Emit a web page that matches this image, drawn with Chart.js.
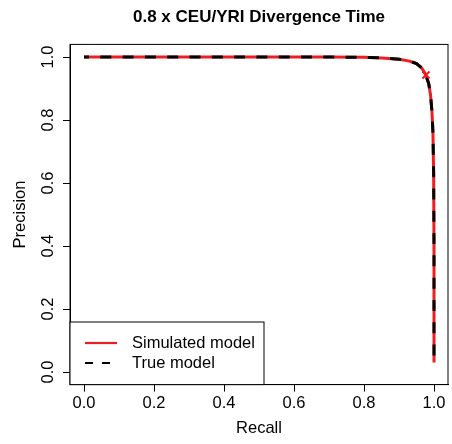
<!DOCTYPE html>
<html>
<head>
<meta charset="utf-8">
<script src="https://cdn.jsdelivr.net/npm/chart.js@4"></script>
<style>
  html, body { margin: 0; padding: 0; background: #fff; }
  canvas { display: block; }
</style>
</head>
<body>
<canvas id="pr" width="452" height="444"></canvas>
<script>
const recall    = [0, 0.2, 0.4, 0.6, 0.7, 0.8, 0.85, 0.9, 0.93, 0.95, 0.965, 0.977, 0.985, 0.99, 0.994, 0.997, 0.999, 1.0, 1.0];
const precision = [1, 1, 1, 1, 1, 0.999, 0.997, 0.993, 0.987, 0.979, 0.965, 0.943, 0.915, 0.88, 0.83, 0.76, 0.63, 0.4, 0.03];
const markRecall = [0.977];
const markPrecision = [0.943];
const tickVals = [0, 0.2, 0.4, 0.6, 0.8, 1.0];
const titleText = '0.8 x CEU/YRI Divergence Time';
const legendLabels = ['Simulated model', 'True model'];

const RED = '#ee1d23';
const FONT = "'Liberation Sans', Arial, sans-serif";

const points = recall.map((r, i) => ({ x: r, y: precision[i] }));
const marks = markRecall.map((r, i) => ({ x: r, y: markPrecision[i] }));

// box, title and legend drawn R-style on top of the chart
const rPlot = {
  id: 'rPlot',
  afterDraw(chart) {
    const { ctx, chartArea: a } = chart;
    ctx.save();
    ctx.strokeStyle = '#000';
    ctx.lineWidth = 1;
    ctx.strokeRect(a.left, a.top, a.right - a.left, a.bottom - a.top);

    ctx.fillStyle = '#000';
    ctx.font = 'bold 17px ' + FONT;
    ctx.textAlign = 'center';
    ctx.textBaseline = 'middle';
    ctx.fillText(titleText, (a.left + a.right) / 2, 17.5);

    const lx = a.left, ly = 322, lw = 194;
    ctx.fillStyle = '#fff';
    ctx.fillRect(lx, ly, lw, a.bottom - ly);
    ctx.strokeStyle = '#000';
    ctx.strokeRect(lx, ly, lw, a.bottom - ly);
    ctx.lineWidth = 2.2;
    ctx.strokeStyle = RED;
    ctx.beginPath(); ctx.moveTo(lx + 15, 343); ctx.lineTo(lx + 47, 343); ctx.stroke();
    ctx.strokeStyle = '#000';
    ctx.setLineDash([8, 9]);
    ctx.beginPath(); ctx.moveTo(lx + 15, 363); ctx.lineTo(lx + 47, 363); ctx.stroke();
    ctx.setLineDash([]);
    ctx.fillStyle = '#000';
    ctx.font = '16.5px ' + FONT;
    ctx.textAlign = 'left';
    ctx.fillText(legendLabels[0], lx + 62, 343);
    ctx.fillText(legendLabels[1], lx + 62, 363);
    ctx.restore();
  }
};

new Chart(document.getElementById('pr'), {
  type: 'line',
  data: {
    datasets: [
      {
        data: marks,
        showLine: false,
        pointStyle: 'crossRot',
        pointRadius: 5,
        pointBorderWidth: 2,
        pointBorderColor: RED,
        borderColor: RED
      },
      {
        data: points,
        borderColor: '#000',
        borderWidth: 3,
        borderDash: [11, 11.3],
        borderDashOffset: 6,
        pointRadius: 0,
        tension: 0,
        fill: false
      },
      {
        data: points,
        borderColor: RED,
        borderWidth: 3,
        pointRadius: 0,
        tension: 0,
        fill: false
      }
    ]
  },
  options: {
    responsive: false,
    animation: false,
    devicePixelRatio: 1,
    layout: { autoPadding: false, padding: { top: 44.4, right: 4, left: 0, bottom: 0 } },
    plugins: { legend: { display: false }, tooltip: { enabled: false }, title: { display: false } },
    scales: {
      x: {
        type: 'linear',
        min: -0.04, max: 1.04,
        afterBuildTicks: s => { s.ticks = tickVals.map(v => ({ value: v })); },
        afterFit: s => { s.height = 59.4; s.paddingLeft = 0; s.paddingRight = 0; },
        grid: { drawOnChartArea: false, tickLength: 7, color: '#000', tickColor: '#000' },
        border: { display: true, color: '#000' },
        ticks: { color: '#000', padding: 2.3, maxRotation: 0, font: { family: FONT, size: 16.5 }, callback: v => v.toFixed(1) },
        title: { display: true, text: 'Recall', color: '#000', padding: { top: 0, bottom: 5.4 }, font: { family: FONT, size: 16.5 } }
      },
      y: {
        type: 'linear',
        min: -0.04, max: 1.04,
        afterBuildTicks: s => { s.ticks = tickVals.map(v => ({ value: v })); },
        afterFit: s => { s.width = 70; s.paddingTop = 0; s.paddingBottom = 0; },
        grid: { drawOnChartArea: false, tickLength: 7, color: '#000', tickColor: '#000' },
        border: { display: true, color: '#000' },
        ticks: { color: '#000', padding: 2.8, minRotation: 90, maxRotation: 90, crossAlign: 'center', font: { family: FONT, size: 16.5 }, callback: v => v.toFixed(1) },
        title: { display: true, text: 'Precision', color: '#000', padding: { top: 10.5, bottom: 0 }, font: { family: FONT, size: 16.5 } }
      }
    }
  },
  plugins: [rPlot]
});
</script>
</body>
</html>
